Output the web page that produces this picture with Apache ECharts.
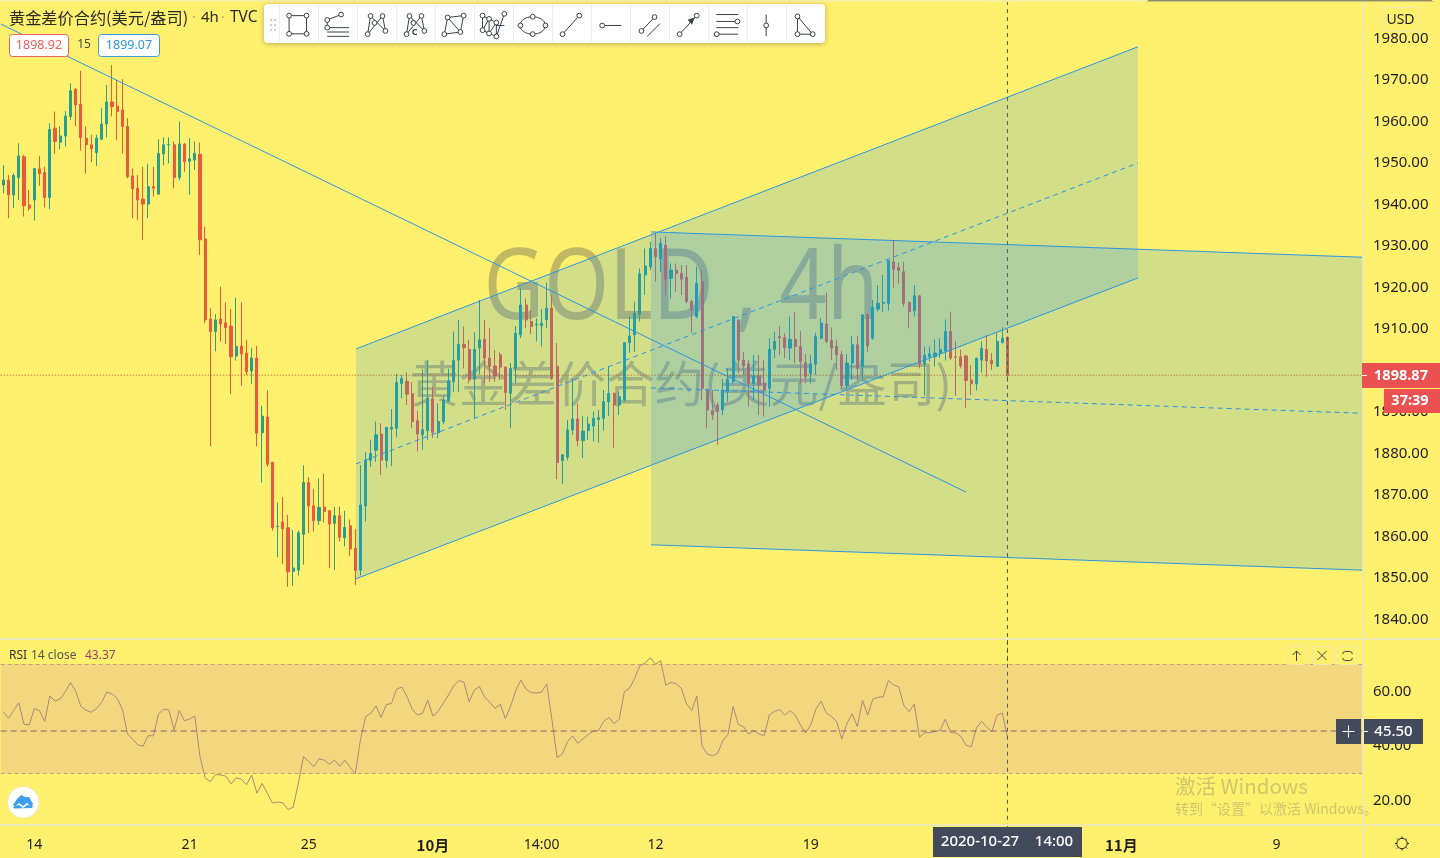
<!DOCTYPE html>
<html><head><meta charset="utf-8"><title>GOLD 4h</title>
<style>html,body{margin:0;padding:0;background:#FFF06E;overflow:hidden}#c{width:1440px;height:858px}</style>
<script src="https://cdn.jsdelivr.net/npm/echarts@6/dist/echarts.min.js"></script></head>
<body><div id="c"></div><script>
// [open, close, low, high]
const candles=[[1944.7,1945.9,1942.7,1949.5],[1945.9,1942.3,1936.7,1947.1],[1942.3,1947.0,1939.1,1947.5],[1946.5,1951.7,1941.1,1954.8],[1951.5,1939.7,1937.1,1952.0],[1939.9,1939.1,1938.5,1943.5],[1941.1,1948.7,1936.1,1948.7],[1948.6,1947.4,1944.5,1951.7],[1947.7,1941.7,1939.3,1949.1],[1941.7,1958.1,1938.9,1959.6],
[1958.4,1955.2,1952.2,1962.4],[1955.0,1956.5,1953.3,1958.8],[1956.5,1961.3,1954.0,1962.5],[1961.2,1967.4,1960.4,1969.2],[1967.8,1964.0,1958.9,1968.0],[1964.2,1956.1,1953.0,1972.2],[1956.0,1954.4,1947.4,1958.9],[1954.4,1953.5,1950.2,1956.8],[1952.5,1956.0,1949.3,1956.8],[1955.7,1959.4,1955.6,1963.2],
[1959.4,1964.7,1956.2,1968.8],[1964.7,1963.6,1961.2,1973.6],[1963.7,1962.4,1955.6,1970.0],[1962.8,1958.8,1952.2,1970.2],[1958.8,1946.7,1946.3,1960.8],[1946.9,1943.8,1936.7,1948.7],[1943.9,1941.1,1936.3,1947.1],[1941.3,1940.1,1931.5,1949.1],[1940.1,1944.3,1936.7,1949.8],[1944.3,1943.9,1941.9,1949.1],
[1942.5,1952.3,1942.5,1955.7],[1952.2,1954.4,1949.5,1956.2],[1954.4,1954.5,1949.9,1956.2],[1954.4,1946.5,1943.9,1955.2],[1946.5,1954.6,1945.8,1960.0],[1954.5,1950.3,1947.9,1954.8],[1950.4,1951.0,1942.3,1956.0],[1950.7,1952.3,1948.3,1955.2],[1952.1,1931.5,1927.8,1954.9],[1931.7,1912.2,1911.4,1934.6],
[1912.4,1909.4,1881.8,1915.0],[1909.4,1912.2,1904.6,1913.6],[1912.4,1911.2,1907.0,1920.2],[1911.5,1910.3,1906.4,1916.4],[1910.7,1903.3,1894.3,1914.8],[1903.5,1905.8,1902.4,1917.6],[1905.9,1904.0,1896.3,1916.4],[1904.2,1899.7,1898.9,1907.4],[1899.9,1903.0,1896.8,1905.4],[1903.0,1884.9,1881.7,1905.9],
[1885.0,1889.0,1873.0,1891.5],[1888.8,1877.4,1876.8,1895.2],[1877.9,1862.1,1861.4,1877.9],[1862.4,1862.5,1855.0,1868.2],[1863.5,1861.9,1853.4,1869.5],[1862.1,1851.5,1847.9,1865.2],[1851.6,1852.4,1848.1,1861.6],[1851.9,1860.9,1850.6,1861.4],[1860.5,1873.0,1853.2,1877.2],[1873.0,1867.4,1860.8,1874.3],
[1867.4,1863.8,1861.2,1871.5],[1863.8,1867.0,1862.8,1874.0],[1867.1,1866.0,1863.4,1875.2],[1866.2,1863.0,1852.4,1866.4],[1863.2,1865.0,1851.9,1867.2],[1865.0,1859.8,1858.8,1867.2],[1859.7,1862.2,1857.6,1866.2],[1862.6,1857.0,1855.3,1864.1],[1857.2,1851.8,1848.3,1861.8],[1851.9,1867.6,1850.6,1877.2],
[1867.4,1878.4,1863.6,1880.3],[1878.4,1880.0,1876.8,1883.3],[1880.8,1884.5,1878.0,1887.7],[1884.7,1878.4,1874.8,1887.3],[1878.3,1886.3,1876.6,1886.3],[1885.9,1886.3,1877.0,1890.7],[1886.1,1897.1,1883.9,1899.2],[1896.9,1898.1,1893.3,1898.9],[1897.4,1894.3,1891.7,1899.5],[1894.4,1887.7,1886.1,1897.2],
[1887.9,1884.7,1880.5,1890.3],[1884.5,1885.7,1880.9,1900.3],[1885.5,1893.3,1883.3,1902.5],[1893.2,1885.1,1883.7,1896.1],[1885.0,1887.7,1883.7,1892.1],[1887.7,1892.9,1887.1,1894.0],[1892.7,1897.5,1892.5,1900.4],[1897.3,1902.5,1894.9,1909.4],[1902.5,1906.3,1894.9,1912.2],[1906.3,1905.5,1900.5,1910.6],
[1905.1,1897.7,1896.9,1907.4],[1897.9,1905.1,1888.5,1909.2],[1905.4,1907.4,1899.0,1917.0],[1907.5,1903.0,1896.9,1912.2],[1903.0,1901.0,1897.3,1910.2],[1901.1,1898.7,1897.3,1904.9],[1903.8,1900.8,1897.7,1904.4],[1900.8,1894.7,1890.5,1901.0],[1894.5,1900.5,1886.1,1901.8],[1900.5,1909.0,1896.9,1910.7],
[1908.6,1915.8,1907.8,1919.8],[1915.8,1912.2,1910.2,1917.4],[1911.8,1910.6,1908.8,1914.6],[1911.0,1911.2,1907.0,1912.6],[1910.8,1911.4,1905.8,1914.8],[1912.3,1915.0,1910.2,1921.2],[1915.0,1898.1,1897.7,1918.2],[1901.0,1877.8,1873.8,1906.6],[1878.3,1879.7,1872.7,1879.7],[1879.1,1885.7,1878.3,1888.1],
[1885.7,1888.3,1884.5,1898.1],[1888.3,1883.1,1881.7,1892.0],[1883.1,1885.4,1878.9,1889.0],[1885.5,1887.1,1883.3,1888.9],[1886.6,1888.5,1882.9,1890.1],[1888.2,1888.7,1882.6,1890.5],[1888.5,1892.5,1885.5,1895.3],[1892.5,1894.5,1889.0,1901.0],[1894.5,1891.7,1881.3,1894.7],[1891.7,1893.7,1889.3,1894.9],
[1892.9,1906.7,1892.5,1906.7],[1906.7,1908.3,1904.3,1913.0],[1908.6,1913.8,1904.5,1916.6],[1913.5,1923.3,1911.8,1924.6],[1923.0,1925.2,1918.2,1929.4],[1925.0,1929.4,1924.2,1931.0],[1929.4,1927.4,1921.4,1933.1],[1927.0,1930.6,1923.8,1931.9],[1930.2,1922.0,1918.2,1932.3],[1922.2,1924.2,1917.4,1925.8],
[1924.2,1923.4,1919.0,1925.8],[1923.4,1922.0,1918.2,1925.4],[1922.5,1916.6,1916.2,1925.4],[1916.6,1914.6,1909.1,1917.0],[1913.0,1921.0,1912.6,1925.0],[1921.4,1895.7,1892.9,1924.2],[1895.3,1890.5,1886.1,1895.7],[1890.3,1889.3,1888.1,1895.3],[1891.7,1890.1,1882.1,1892.3],[1890.5,1895.3,1889.3,1897.9],
[1894.9,1897.9,1892.5,1900.5],[1897.3,1913.0,1896.9,1913.0],[1912.2,1902.5,1899.3,1912.2],[1902.5,1901.1,1898.9,1904.5],[1901.6,1896.9,1891.3,1902.5],[1896.9,1898.7,1892.9,1903.7],[1898.5,1896.5,1889.3,1903.7],[1896.9,1895.3,1888.9,1902.5],[1895.7,1905.1,1891.3,1907.8],[1905.1,1907.0,1903.0,1909.4],
[1908.2,1907.9,1903.7,1910.7],[1907.9,1905.5,1903.0,1909.0],[1905.4,1907.5,1902.5,1913.0],[1907.5,1905.8,1901.8,1914.0],[1905.8,1902.2,1896.9,1909.5],[1901.9,1898.5,1896.9,1904.0],[1899.3,1901.6,1896.9,1903.7],[1901.5,1908.2,1898.9,1909.1],[1907.8,1911.4,1907.5,1912.6],[1911.2,1907.0,1906.6,1918.8],
[1907.2,1905.4,1902.5,1910.4],[1905.8,1903.8,1900.1,1907.4],[1903.8,1896.3,1895.7,1904.8],[1896.4,1901.8,1895.7,1904.0],[1901.8,1906.2,1897.7,1908.3],[1906.2,1900.5,1897.7,1908.3],[1900.9,1913.4,1897.3,1913.6],[1913.4,1905.9,1904.5,1913.8],[1907.8,1915.2,1907.4,1917.0],[1914.8,1916.2,1914.2,1920.6],
[1916.2,1916.4,1914.2,1923.0],[1916.2,1926.5,1914.4,1926.6],[1926.2,1924.4,1920.0,1931.4],[1924.9,1924.1,1921.0,1926.0],[1923.8,1916.2,1915.4,1926.2],[1916.4,1914.2,1910.2,1916.6],[1914.4,1918.0,1913.0,1920.6],[1918.0,1901.6,1900.5,1918.2],[1901.6,1903.7,1893.9,1905.8],[1903.3,1904.0,1902.1,1905.8],
[1903.3,1904.2,1900.9,1907.5],[1904.2,1905.0,1903.0,1907.8],[1904.7,1909.4,1902.4,1912.3],[1909.4,1903.0,1902.5,1914.2],[1903.3,1903.2,1893.9,1907.0],[1903.3,1901.1,1900.5,1905.0],[1903.5,1897.6,1890.9,1903.8],[1897.7,1896.8,1894.1,1901.3],[1896.8,1903.0,1895.2,1903.0],[1902.5,1905.4,1899.5,1907.0],
[1905.1,1902.3,1898.5,1908.6],[1902.5,1901.6,1900.1,1904.2],[1901.0,1907.0,1901.0,1909.0],[1906.7,1907.8,1906.6,1910.4],[1908.0,1898.87,1897.3,1908.2]];
const rsiValues=[52.6,50.2,53.0,55.9,48.0,47.7,53.7,53.0,49.0,58.4,56.5,57.3,60.0,63.3,60.0,54.5,53.1,52.4,53.7,56.0,59.8,59.1,57.5,53.5,44.4,42.5,40.4,39.9,43.8,43.7,51.8,53.5,53.2,45.9,53.0,49.3,49.9,51.0,36.1,28.3,26.9,29.5,29.4,28.9,26.1,28.3,27.8,25.8,29.3,22.7,26.3,22.7,19.1,19.4,19.2,16.7,17.5,26.3,36.1,34.3,32.4,35.3,34.8,33.3,34.9,32.6,34.8,32.2,29.8,42.2,50.8,52.0,54.7,50.5,55.2,55.6,60.9,61.6,58.1,53.5,51.4,52.0,56.9,51.0,52.6,55.7,58.7,62.0,64.0,63.4,56.2,60.6,61.8,57.9,56.0,53.8,55.3,50.1,54.5,60.3,64.2,60.9,59.6,59.4,59.8,62.8,49.6,35.7,37.1,41.6,43.7,41.0,42.6,44.2,45.4,45.7,49.0,50.5,48.2,49.8,60.0,61.2,64.9,69.5,70.4,72.4,70.0,71.3,62.3,63.4,62.8,61.2,55.4,53.1,58.4,40.0,37.1,36.4,37.3,41.9,44.2,54.5,47.9,47.1,44.4,45.7,44.4,43.8,51.4,52.7,53.4,51.3,53.0,51.3,47.7,44.8,47.7,53.6,56.5,52.1,50.8,49.0,42.5,48.3,51.8,47.1,56.8,51.3,57.2,57.9,58.1,64.0,62.4,61.7,54.8,52.6,55.4,43.2,44.9,44.9,45.3,45.8,49.9,45.0,44.8,43.5,40.3,39.7,46.5,49.1,46.9,45.3,51.3,52.1,43.37];
const tickBars=[6,36,59,83,104,126,156,216,246];
const tickLabels=['14','21','25','10月','14:00','12','19','11月','9'];
const boldLabels=['10月','11月'];
const barSlots=263;
const lastPrice=1898.87, crossRsi=45.5, crossBar=194, rsiUpper=70, rsiLower=30;
const priceMin=1830, priceMax=1989.28;
// drawings: [bar position, price]
const ch1Top=[[68.14,1905.2],[219.2,1978.0]], ch1Mid=[[68.14,1877.5],[219.2,1950.0]], ch1Bot=[[68.14,1849.8],[219.2,1922.3]];
const ch2Top=[[125.14,1933.4],[262.5,1927.3]], ch2Mid=[[125.14,1895.8],[262.5,1889.7]], ch2Bot=[[125.14,1858.0],[262.5,1851.9]];
const trendLine=[[-0.5,1983.5],[186.0,1870.7]];

const FONT='"Noto Sans","Noto Sans CJK SC",sans-serif', CJK='"Noto Sans CJK SC","Noto Sans",sans-serif';
const BG='#FFF06E', SEP='#EFE8B4', BLUE='#2A96E6', DARK='#434A5C', RED='#EB5150', INK='#1F1F1F';
const categories=Array.from({length:barSlots},(_,i)=>{const k=tickBars.indexOf(i);return k>=0?tickLabels[k]:String(i)});

function channel(top,bot){return {type:'custom',xAxisIndex:1,yAxisIndex:0,z:3,silent:true,clip:true,
  data:[top[0],top[1],bot[1],bot[0]],
  encode:{x:0,y:1},
  renderItem(p,api){ if(p.dataIndex!==0) return null;
    const pts=[top[0],top[1],bot[1],bot[0]].map(d=>api.coord(d));
    return {type:'polygon',shape:{points:pts},style:{fill:'rgba(33,150,243,0.2)'}};}};}
function seg(d,type,xi=1,yi=0,color=BLUE,z=4,w=1){return {type:'line',xAxisIndex:xi,yAxisIndex:yi,data:d,symbol:'none',silent:true,z,animation:false,
  lineStyle:{color,width:w,type:type||'solid'}};}

const P=[];
function rect(x,y,w,h,fill,o={}){P.push({type:'rect',z:o.z||100,shape:{x,y,width:w,height:h,r:o.r||0},style:{fill,stroke:o.stroke||null,lineWidth:o.lw||1,shadowBlur:o.sb||0,shadowColor:o.sc||'transparent',shadowOffsetY:o.sy||0}});}
function text(t,x,y,size,fill,o={}){P.push({type:'text',z:o.z||101,x,y,scaleX:o.sx||1,style:{text:t,fontSize:size,fontFamily:o.font||FONT,fontWeight:o.w||'normal',fill,align:o.a||'left',verticalAlign:'middle'}});}
function poly(pts,color,o={}){P.push({type:o.fill?'polygon':'polyline',z:o.z||102,shape:{points:pts},style:o.fill?{fill:color}:{stroke:color,fill:null,lineWidth:o.lw||1}});}
function dot(x,y,r=2.4,stroke='#3c3f48'){P.push({type:'circle',z:103,shape:{cx:x,cy:y,r},style:{fill:'#fff',stroke,lineWidth:1}});}

// watermark
text('GOLD , 4h',681,291,98,'rgba(67,70,81,0.33)',{a:'center',z:1,sx:0.85});
text('黄金差价合约(美元/盎司)',681,383,49,'rgba(67,70,81,0.33)',{a:'center',z:1,font:CJK});

// pane separators
rect(0,638,1440,2,SEP); rect(0,824,1440,2,SEP); rect(1362,0,2,858,SEP);
rect(0,0,1146,2,'#F7F0A0'); rect(1148,0,284,1,'#8E8C62'); rect(1146,1,288,1,'#C9C47F');

// legend
text('黄金差价合约(美元/盎司)',9,18,16.2,'#2A2A2A',{font:CJK});
text('·',192,18,14,'#B0AA70'); text('4h',201,18,15,'#2A2A2A'); text('·',221,18,14,'#B0AA70'); text('TVC',230,18,15.5,'#2A2A2A');
rect(9.5,34.5,59,22,'#fff',{r:3,stroke:'#E8675F'}); text('1898.92',39,45.5,12.5,'#E8605A',{a:'center'});
text('15',84,45,12,'#4a4a4a',{a:'center'});
rect(98.5,34.5,61,22,'#fff',{r:3,stroke:'#3C9BE0'}); text('1899.07',129,45.5,12.5,'#2F93DE',{a:'center'});
text('RSI',9,656,12,'#333'); text('14 close',31,656,12,'#555'); text('43.37',85,656,12,'#9C3F63');

// toolbar
rect(264,4,561,39,'#fff',{r:4,sb:5,sc:'rgba(90,90,60,0.45)',sy:1});
const zx=x=>260+x/2.75, zy=y=>y/2.75, Z=a=>a.map(q=>[zx(q[0]),zy(q[1])]);
[279,318,357,396,435,474,513,552,591,630,669,708,747,786].forEach(x=>rect(x,5,1,37,'#EDEDED',{z:101}));
[[270,19],[274,19],[270,24],[274,24],[270,29],[274,29]].forEach(q=>rect(q[0],q[1],2,2,'#D0D0D0',{z:101}));
const I='#3c3f48';
const L=(a)=>poly(Z(a),I), D=(a)=>a.forEach(q=>dot(zx(q[0]),zy(q[1])));
L([[80,43],[128,43],[128,93],[80,93],[80,43]]); D([[80,43],[128,43],[128,93],[80,93]]);
L([[185,55],[223,40]]);L([[185,55],[185,76]]);L([[190,76],[245,76]]);L([[185,88],[245,88]]);L([[185,100],[245,100]]);D([[185,55],[223,40],[185,76]]);
L([[296,94],[304,44],[345,85],[337,44],[296,94]]);D([[304,44],[337,44],[315,63],[296,94],[345,85]]);
L([[403,94],[411,44],[452,85],[444,44],[403,94]]);D([[411,44],[444,44],[422,63],[403,94],[452,85]]);text('C',zx(425),zy(90),9,I,{a:'center',z:104,w:'bold'});
L([[516,48],[560,43],[551,88],[507,94],[516,48],[551,88]]);D([[516,48],[560,43],[551,88],[507,94]]);
L([[612,43],[612,83],[630,52],[630,92],[650,62],[650,100],[672,38]]);L([[612,43],[630,52],[650,62]]);L([[612,83],[630,92],[650,100]]);L([[650,70],[672,70]]);D([[612,43],[630,52],[650,62],[672,38],[612,83],[630,92],[650,100]]);
P.push({type:'ellipse',z:102,shape:{cx:zx(750),cy:zy(70),rx:35/2.75,ry:24/2.75},style:{fill:null,stroke:I,lineWidth:1}});D([[750,46],[785,70],[750,94],[716,70]]);
L([[832,94],[878,43]]);D([[832,94],[878,43]]);
L([[941,70],[994,70]]);D([[941,70]]);
L([[1049,85],[1085,47]]);L([[1065,100],[1100,65]]);D([[1049,85],[1085,47]]);
L([[1154,94],[1201,43]]);poly(Z([[1195,48],[1176,54],[1188,68]]),I,{fill:true});D([[1154,94],[1201,43]]);
L([[1255,40],[1315,40]]);L([[1255,59],[1310,59]]);L([[1255,76],[1315,76]]);L([[1262,94],[1315,94]]);D([[1313,59],[1256,94]]);
L([[1392,40],[1392,100]]);D([[1392,70]]);
L([[1478,45],[1478,94],[1520,94],[1478,45]]);D([[1478,45],[1478,94],[1520,94]]);

// price scale extras
rect(1382.5,7.5,36,24,BG,{r:2,stroke:'#EFE7AE'}); text('USD',1400.5,20,14,INK,{a:'center'});
rect(1362,363,78,25,RED); rect(1362,375,5,1,'#fff',{z:101}); text('1898.87',1401,376,14.5,'#fff',{a:'center',w:'bold'});
rect(1384,389,56,24,RED); text('37:39',1410,401,14.5,'#fff',{a:'center',w:'bold'});

// RSI buttons
[[1287,19],[1312,20],[1337,20]].forEach(b=>rect(b[0]+.5,646.5,b[1],18,'rgba(255,240,110,0.6)',{r:2,stroke:'#EFE7AE'}));
poly([[1296.5,661],[1296.5,651]],I);poly([[1292.5,655],[1296.5,651],[1300.5,655]],I);
poly([[1317.5,651],[1326.5,660]],I);poly([[1326.5,651],[1317.5,660]],I);
P.push({type:'rect',z:102,shape:{x:1342.5,y:651.5,width:10,height:9,r:3},style:{fill:null,stroke:I,lineWidth:1}});
rect(1342,654,1.5,4,BG,{z:103});rect(1352,654,1.5,4,BG,{z:103});

// crosshair tags
rect(1336,719,25,25,DARK); poly([[1342.5,731.5],[1354.5,731.5]],'#fff');poly([[1348.5,725.5],[1348.5,737.5]],'#fff');
rect(1364,719,59,25,DARK); rect(1364,731,4,1,'#fff',{z:101}); text('45.50',1393.5,732,15,'#fff',{a:'center',w:'500'});
rect(933,827,149,30,DARK); text('2020-10-27',980,842,15,'#fff',{a:'center',w:'500'}); text('14:00',1054,842,15,'#fff',{a:'center',w:'500'});

// windows notice
text('激活 Windows',1175,786,20.5,'rgba(110,110,110,0.33)',{font:CJK,z:110});
text('转到“设置”以激活 Windows。',1175,809,14,'rgba(110,110,110,0.33)',{font:CJK,z:110});

// logo
P.push({type:'circle',z:100,shape:{cx:23.3,cy:802.3,r:16},style:{fill:'#fff',stroke:'#F3E9A0',lineWidth:1}});
poly([[13,805],[17,799],[21,795],[25,797],[29,797],[33,804],[31,807],[27,803],[23,806],[19,803],[15,807]],'#3D9FEF',{fill:true});
poly([[13,807],[19,805],[23,808],[27,805],[33,806],[32,808],[14,808.5]],'#3D9FEF',{fill:true});

// gear
P.push({type:'circle',z:102,shape:{cx:1402,cy:843.5,r:5.2},style:{fill:null,stroke:'#2a2a2a',lineWidth:1}});
[[1402,836.5,1402,838.5],[1402,848.5,1402,850.5],[1395,843.5,1397,843.5],[1407,843.5,1409,843.5],[1397,838.5,1398.3,839.8],[1405.7,847.2,1407,848.5],[1407,838.5,1405.7,839.8],[1398.3,847.2,1397,848.5]].forEach(a=>poly([[a[0],a[1]],[a[2],a[3]]],'#2a2a2a'));

const labelStyle={color:INK,fontFamily:FONT,fontSize:15,margin:11,padding:[2,0,0,0]};
const option={
 backgroundColor:BG, animation:false,
 graphic:{elements:P},
 grid:[{left:0.7,width:1361.3,top:0,height:(priceMax-priceMin)*4.15,show:false},{left:0.7,width:1361.3,top:637,height:190.75,show:false}],
 xAxis:[
  {type:'category',gridIndex:0,data:categories,show:false,boundaryGap:true},
  {type:'value',gridIndex:0,min:-0.5,max:barSlots-0.5,show:false},
  {type:'category',gridIndex:1,data:categories,boundaryGap:true,axisLine:{show:false},axisTick:{show:false},splitLine:{show:false},
   axisLabel:{interval:(i)=>tickBars.includes(i),color:INK,fontFamily:FONT,fontSize:14,margin:10,
    formatter:(v)=>boldLabels.includes(v)?'{b|'+v+'}':v,rich:{b:{fontWeight:'bold',fontSize:15,fontFamily:CJK,color:INK}}}},
  {type:'value',gridIndex:1,min:-0.5,max:barSlots-0.5,show:false}
 ],
 yAxis:[
  {type:'value',gridIndex:0,position:'right',min:priceMin,max:priceMax,interval:10,axisLine:{show:false},axisTick:{show:false},splitLine:{show:false},
   axisLabel:{...labelStyle,showMinLabel:false,showMaxLabel:false,formatter:v=>v.toFixed(2)}},
  {type:'value',gridIndex:1,position:'right',min:10,max:80,interval:10,axisLine:{show:false},axisTick:{show:false},splitLine:{show:false},
   axisLabel:{...labelStyle,formatter:v=>[20,40,60].includes(v)?v.toFixed(2):''}}
 ],
 series:[
  {type:'candlestick',name:'黄金差价合约',xAxisIndex:0,yAxisIndex:0,data:candles,z:2,barWidth:2.6,silent:true,
   itemStyle:{color:'#27A08E',color0:'#EA5A3E',borderColor:'#27A08E',borderColor0:'#EA5A3E',borderWidth:1}},
  channel(ch1Top,ch1Bot),channel(ch2Top,ch2Bot),
  seg(ch1Top),seg(ch1Bot),seg(ch1Mid,[5,4]),
  seg(ch2Top),seg(ch2Bot),seg(ch2Mid,[5,4]),
  seg(trendLine),
  seg([[-0.5,lastPrice],[barSlots-0.5,lastPrice]],[1,2],1,0,'#A8552A',5),
  seg([[crossBar,priceMin],[crossBar,priceMax]],[4,4],1,0,'#555A66',6),
  {type:'line',name:'RSI',xAxisIndex:2,yAxisIndex:1,data:rsiValues,symbol:'none',silent:true,z:4,lineStyle:{color:'#B08878',width:1},
   markArea:{silent:true,z:1,itemStyle:{color:'#F3D77F'},data:[[{yAxis:rsiUpper},{yAxis:rsiLower}]]},
   markLine:{silent:true,symbol:'none',z:2,label:{show:false},lineStyle:{color:'#BFA27E',type:[4,3],width:1},data:[{yAxis:rsiUpper},{yAxis:rsiLower}]}},
  seg([[-0.5,crossRsi],[barSlots-0.5,crossRsi]],[6,4],3,1,'#7A6E68',5),
  seg([[crossBar,10],[crossBar,80]],[4,4],3,1,'#555A66',6)
 ]
};
echarts.init(document.getElementById('c')).setOption(option);
</script></body></html>
